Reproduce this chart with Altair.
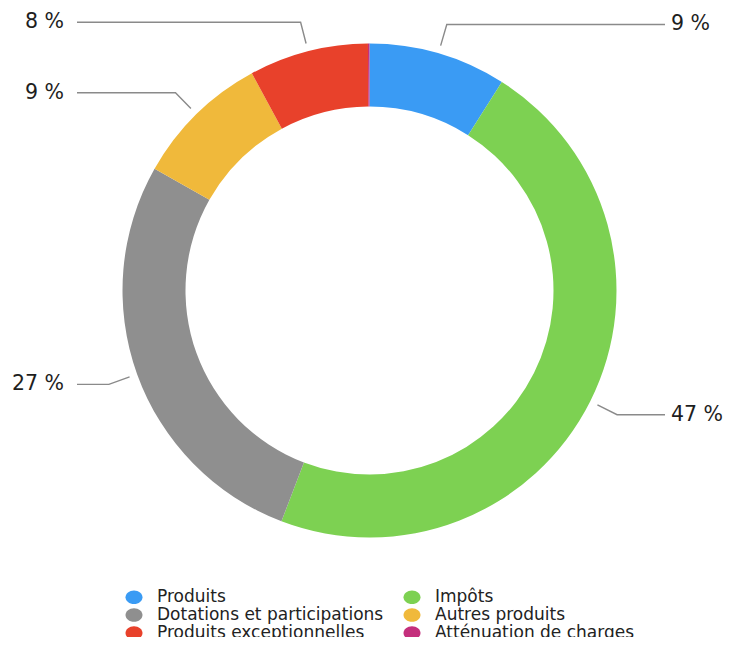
import math
import altair as alt
import pandas as pd

# ---- data ----
categories = [
    "Produits",
    "Impôts",
    "Dotations et participations",
    "Autres produits",
    "Produits exceptionnelles",
    "Atténuation de charges",
]
values = [9.0, 46.8, 27.4, 8.9, 7.8, 0.1]
colors = ["#3A9BF4", "#7DD152", "#8F8F8F", "#F0B93B", "#E8412B", "#C42F7C"]

# ---- layout constants (view pixels) ----
W, H = 715, 629
CX, CY = 361.5, 282.5
R_OUT, R_IN = 247, 184
R_START, R_ELBOW = 255, 277
X_LINE_LEFT, X_LINE_RIGHT = 69, 657
X_TEXT_LEFT, X_TEXT_RIGHT = 56, 663

slices = pd.DataFrame({"cat": categories, "value": values, "idx": range(len(categories))})

total = sum(values)
line_rows, label_rows = [], []
cum = 0.0
for cat, v in zip(categories, values):
    mid = (cum + v / 2) / total * 2 * math.pi
    cum += v
    if v < 1:
        continue
    s, c = math.sin(mid), math.cos(mid)
    p0 = (CX + R_START * s, CY - R_START * c)
    p1 = (CX + R_ELBOW * s, CY - R_ELBOW * c)
    right = s >= 0
    p2 = (X_LINE_RIGHT if right else X_LINE_LEFT, p1[1])
    for k, (px, py) in enumerate([p0, p1, p2]):
        line_rows.append({"cat": cat, "step": k, "px": px, "py": py})
    label_rows.append({
        "cat": cat,
        "label": f"{round(v)} %",
        "px": X_TEXT_RIGHT if right else X_TEXT_LEFT,
        "py": p1[1],
        "side": "right" if right else "left",
    })

lines_df = pd.DataFrame(line_rows)
labels_df = pd.DataFrame(label_rows)

ellipse = "M -1 0 A 1 0.8 0 1 0 1 0 A 1 0.8 0 1 0 -1 0 Z"

arc = alt.Chart(slices).mark_arc(innerRadius=R_IN, outerRadius=R_OUT, strokeWidth=0).encode(
    theta=alt.Theta("value:Q", stack=True),
    order=alt.Order("idx:Q", sort="ascending"),
    color=alt.Color(
        "cat:N",
        scale=alt.Scale(domain=categories, range=colors),
        legend=alt.Legend(
            orient="none",
            direction="horizontal",
            legendX=117.5,
            legendY=580.5,
            columns=2,
            title=None,
            symbolType=ellipse,
            symbolSize=289,
            symbolStrokeWidth=0,
            labelFont="DejaVu Sans",
            labelFontSize=17,
            labelColor="#222222",
            labelOffset=14.5,
            labelLimit=400,
            columnPadding=20,
            rowPadding=0,
            padding=0,
        ),
    ),
    x=alt.value(CX),
    y=alt.value(CY),
)

lines = alt.Chart(lines_df).mark_line(color="#8a8a8a", strokeWidth=1.4).encode(
    x=alt.X("px:Q", scale=None, axis=None),
    y=alt.Y("py:Q", scale=None, axis=None),
    detail="cat:N",
    order=alt.Order("step:Q"),
)

text_common = dict(font="DejaVu Sans", fontSize=20.5, color="#1e1e1e", baseline="middle")

text_left = alt.Chart(labels_df).transform_filter(alt.datum.side == "left").mark_text(
    align="right", **text_common
).encode(
    x=alt.X("px:Q", scale=None, axis=None),
    y=alt.Y("py:Q", scale=None, axis=None),
    text="label:N",
)

text_right = alt.Chart(labels_df).transform_filter(alt.datum.side == "right").mark_text(
    align="left", **text_common
).encode(
    x=alt.X("px:Q", scale=None, axis=None),
    y=alt.Y("py:Q", scale=None, axis=None),
    text="label:N",
)

chart = alt.layer(arc, lines, text_left, text_right).properties(
    width=W,
    height=H,
    padding=0,
    autosize=alt.AutoSizeParams(type="none"),
    background="white",
).configure_view(stroke=None)

chart.save("out.html", embed_options={"renderer": "svg", "actions": False})
